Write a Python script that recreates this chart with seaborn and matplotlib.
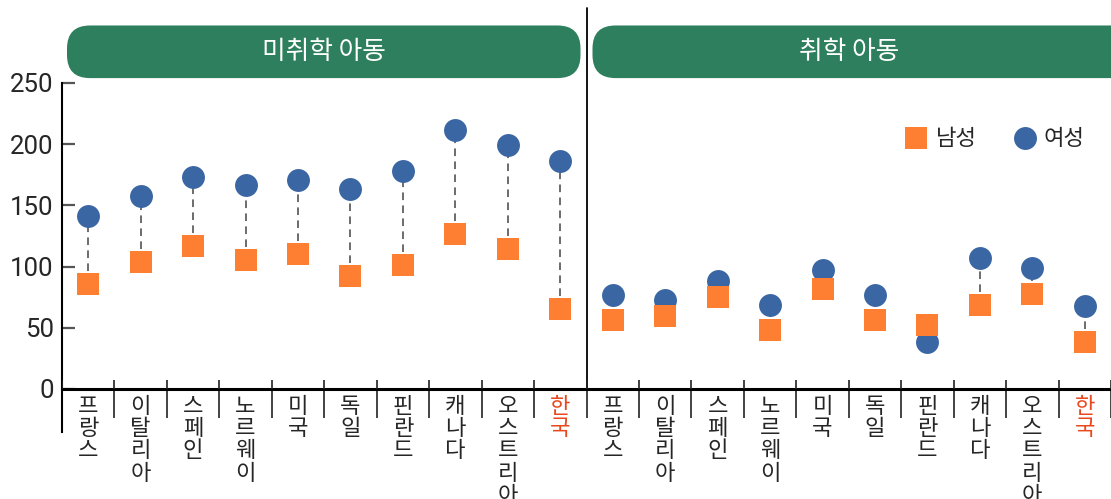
import matplotlib
matplotlib.use("Agg")
import matplotlib.pyplot as plt
from matplotlib.lines import Line2D
from matplotlib.patches import FancyBboxPatch
from matplotlib.transforms import IdentityTransform
import numpy as np
import pandas as pd
import seaborn as sns

# ---------------------------------------------------------------------- #
# Data
# ---------------------------------------------------------------------- #
countries = ["프랑스", "이탈리아", "스페인", "노르웨이", "미국",
             "독일", "핀란드", "캐나다", "오스트리아", "한국"]
groups = ["미취학 아동", "취학 아동"]

male_preschool = [86, 104, 117, 105, 110, 92, 101, 127, 114, 65]
female_preschool = [141, 158, 173, 167, 171, 163, 178, 212, 199, 186]
male_school = [56, 60, 75, 48, 82, 56, 52, 69, 78, 38]
female_school = [77, 73, 88, 69, 97, 77, 38, 107, 99, 68]

yticks = [0, 50, 100, 150, 200, 250]

ORANGE = "#fe7f31"
BLUE = "#3a66a3"
GREEN = "#2e7f5e"
RED = "#e8481c"

# ---------------------------------------------------------------------- #
# Frame
# ---------------------------------------------------------------------- #
rows = []
for g, (male, female) in enumerate([(male_preschool, female_preschool),
                                     (male_school, female_school)]):
    for i, c in enumerate(countries):
        rows.append({"그룹": groups[g], "국가": c,
                     "pos": g * len(countries) + i,
                     "남성": male[i], "여성": female[i]})
df = pd.DataFrame(rows)
long = df.melt(id_vars=["그룹", "국가", "pos"], value_vars=["남성", "여성"],
               var_name="성별", value_name="값")

sns.set_theme(style="white")
plt.rcParams["font.family"] = ["Noto Sans CJK KR", "DejaVu Sans"]

fig = plt.figure(figsize=(11.11, 4.99), dpi=100)
ax = fig.add_axes([62 / 1111, 110 / 499, 1049 / 1111, 306 / 499])
n = len(df)
ax.set_xlim(-0.5, n - 0.5)
ax.set_ylim(0, 250)

# dashed connectors
ax.vlines(df["pos"], df["남성"], df["여성"], colors="#444444",
          linestyles=[(0, (5, 3.5))], linewidth=1.1, zorder=1)

sns.scatterplot(data=long[long["성별"] == "여성"], x="pos", y="값",
                marker="o", s=272, color=BLUE, linewidth=0,
                legend=False, ax=ax, zorder=3)
sns.scatterplot(data=long[long["성별"] == "남성"], x="pos", y="값",
                marker="s", s=272, color=ORANGE, linewidth=0,
                legend=False, ax=ax, zorder=4)
ax.set_xlabel("")
ax.set_ylabel("")

# ---------------------------------------------------------------------- #
# Axes styling
# ---------------------------------------------------------------------- #
sns.despine(ax=ax)
ax.spines["bottom"].set_linewidth(2.2)
ax.spines["bottom"].set_color("black")
ax.spines["left"].set_linewidth(1.5)
ax.spines["left"].set_color("black")
ax.spines["left"].set_bounds(-35, 250)

boundaries = np.arange(n + 1) - 0.5
ax.set_xticks(boundaries)
ax.set_xticklabels([])
ax.set_xticks(df["pos"], minor=True)
ax.set_xticklabels(["\n".join(c) for c in df["국가"]], minor=True,
                   fontsize=16, linespacing=0.97)
ax.tick_params(axis="x", which="major", bottom=True, direction="out",
               length=21, width=1.2, color="#222222")
ax.tick_params(axis="x", which="minor", bottom=True, length=0, pad=4)
for lbl, c in zip(ax.get_xticklabels(minor=True), df["국가"]):
    if c == "한국":
        lbl.set_color(RED)
# short stub of each tick above the axis line
ax.vlines(boundaries, 0, 7.4, colors="#222222", linewidth=1.2, zorder=5)

ax.set_yticks(yticks)
ax.set_yticklabels([str(v) for v in yticks])
ax.tick_params(axis="y", left=True, direction="in", length=9, width=1.6,
               color="#555555", labelsize=18.5, pad=6)
for lbl in ax.get_yticklabels():
    lbl.set_fontfamily("Roboto")

# separator between the two groups
ax.axvline(len(countries) - 0.5, ymin=0, ymax=311 / 250, color="black",
           linewidth=1.3, clip_on=False, zorder=2)

# ---------------------------------------------------------------------- #
# Group header pills
# ---------------------------------------------------------------------- #
to_px = ax.transData.transform
py0 = to_px((0, 254))[1]
py1 = to_px((0, 297))[1]
edges = [to_px((b, 0))[0] for b in (-0.5, len(countries) - 0.5, n - 0.5)]
spans = [(edges[0] + 5, edges[1] - 6), (edges[1] + 6, edges[2] + 40)]
for g, name in enumerate(groups):
    x0, x1 = spans[g]
    pill = FancyBboxPatch((x0, py0), x1 - x0, py1 - py0,
                          boxstyle="round,pad=0,rounding_size=23",
                          transform=IdentityTransform(),
                          facecolor=GREEN, edgecolor="none", zorder=0)
    fig.add_artist(pill)
    ax.text(g * len(countries) + (len(countries) - 1) / 2, 275.5, name,
            ha="center", va="center", color="white", fontsize=18.5,
            clip_on=False, zorder=6)

# ---------------------------------------------------------------------- #
# Legend
# ---------------------------------------------------------------------- #
handles = [
    Line2D([], [], marker="s", linestyle="none", markersize=16.5,
           markerfacecolor=ORANGE, markeredgewidth=0, label="남성"),
    Line2D([], [], marker="o", linestyle="none", markersize=16.5,
           markerfacecolor=BLUE, markeredgewidth=0, label="여성"),
]
ax.legend(handles=handles, loc="center left", bbox_to_anchor=(0.8027, 0.817),
          ncol=2, frameon=False, fontsize=16, handlelength=1.12,
          handletextpad=0.3, columnspacing=1.6, borderpad=0,
          borderaxespad=0)

fig.savefig("out.png", dpi=100)
